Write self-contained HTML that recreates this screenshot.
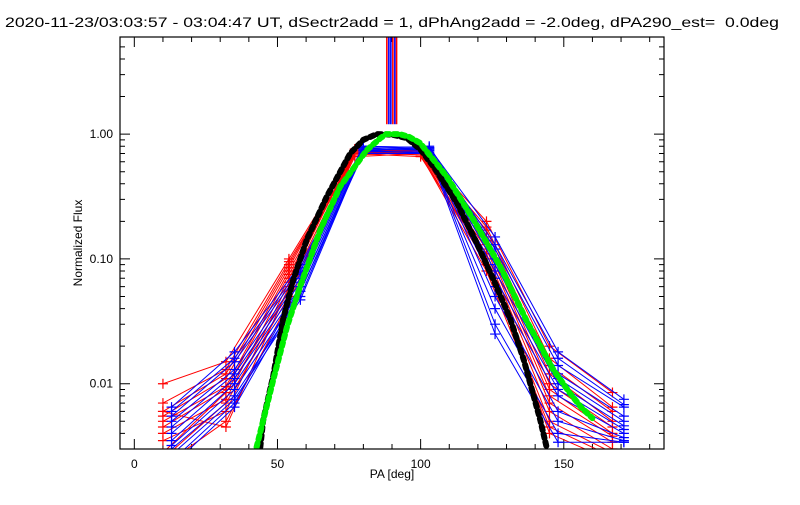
<!DOCTYPE html>
<html><head><meta charset="utf-8"><style>
body{margin:0;background:#fff;}
svg text{font-family:"Liberation Sans",sans-serif;fill:#000;}
</style></head><body>
<svg id="chart" width="800" height="500" viewBox="0 0 800 500" xmlns="http://www.w3.org/2000/svg">
<text x="5" y="27" font-size="14" textLength="774" lengthAdjust="spacingAndGlyphs">2020-11-23/03:03:57 - 03:04:47 UT, dSectr2add = 1, dPhAng2add = -2.0deg, dPA290_est=&#160; 0.0deg</text>
<defs><clipPath id="pc"><rect x="120" y="37" width="544" height="412"/></clipPath></defs>
<g id="axes"></g>
<g id="marks" clip-path="url(#pc)"></g>
<rect x="120" y="37" width="544" height="412" fill="none" stroke="#000" stroke-width="1.2"/>
<text transform="translate(82,243) rotate(-90)" font-size="12" text-anchor="middle">Normalized Flux</text>
<text x="392" y="478" font-size="12" text-anchor="middle">PA [deg]</text>
</svg>
<script>
const xTicks=[0,50,100,150];
const yTicks=[0.01,0.1,1];
const yTickLabels=["0.01","0.10","1.00"];
const redPA=[10,32,54,77,100,123,145,167];
const bluePA=[13,35,58,80,103,126,148,171];
const redSeries=[
[0.01,0.015,0.1,0.72,0.75,0.2,0.02,0.0085],
[0.007,0.013,0.095,0.7,0.74,0.18,0.016,0.0065],
[0.006,0.012,0.09,0.74,0.72,0.17,0.014,0.006],
[0.0055,0.011,0.085,0.76,0.7,0.15,0.012,0.005],
[0.005,0.0095,0.08,0.7,0.76,0.14,0.01,0.0045],
[0.0045,0.009,0.075,0.68,0.72,0.13,0.009,0.004],
[0.004,0.0075,0.07,0.72,0.7,0.12,0.008,0.0038],
[0.0035,0.006,0.065,0.74,0.74,0.11,0.007,0.0034],
[0.006,0.0045,0.06,0.7,0.72,0.1,0.006,0.003],
[0.0028,0.0085,0.055,0.66,0.7,0.09,0.005,0.0028],
[0.0025,0.007,0.05,0.72,0.68,0.08,0.0045,0.0026],
[0.0022,0.005,0.045,0.7,0.66,0.1,0.004,0.0024]];
const blueSeries=[
[0.0065,0.018,0.09,0.8,0.78,0.15,0.018,0.0075],
[0.006,0.016,0.085,0.78,0.76,0.13,0.016,0.0068],
[0.0055,0.015,0.08,0.76,0.8,0.12,0.014,0.0065],
[0.005,0.013,0.075,0.8,0.78,0.1,0.012,0.0055],
[0.0045,0.012,0.07,0.78,0.76,0.09,0.011,0.005],
[0.004,0.011,0.065,0.76,0.74,0.08,0.01,0.0046],
[0.0035,0.01,0.06,0.74,0.76,0.07,0.009,0.0043],
[0.0032,0.009,0.055,0.72,0.72,0.06,0.008,0.004],
[0.003,0.008,0.05,0.76,0.74,0.05,0.006,0.0037],
[0.0027,0.0075,0.047,0.74,0.7,0.04,0.005,0.0035],
[0.0024,0.007,0.06,0.72,0.72,0.03,0.004,0.0034],
[0.0022,0.0065,0.055,0.7,0.7,0.025,0.0034,0.0034]];
const spikePA=[88.2,88.9,89.6,90.3,91.0,91.6];
const spikeColor=["#f00","#00f","#00f","#f00","#00f","#f00"];
const blackPA=[44,45,48.5,52,55.5,60.2,67.2,75.4,80,84.7,90,95.2,100,104.5,112.7,119.6,125.5,131.3,136,141.8,144];
const blackVal=[0.0031,0.0051,0.0115,0.033,0.068,0.142,0.315,0.70,0.9,1.0,0.99,0.93,0.75,0.55,0.28,0.134,0.068,0.033,0.0156,0.0051,0.0031];
const greenPA=[42.7,48.5,53.4,57.9,64.9,71.9,81.2,86,88,92.6,96,99.8,109.2,118.5,127.8,137.3,146.4,152,156,160];
const greenVal=[0.0031,0.0107,0.029,0.06,0.17,0.38,0.745,0.93,1.0,1.0,0.95,0.85,0.455,0.205,0.087,0.031,0.0129,0.0085,0.0065,0.0053];

const NS="http://www.w3.org/2000/svg";
const X0=120,X1=664,Y0=37,Y1=449,XMIN=-5,XMAX=185,YMIN=Math.log10(0.003),YMAX=Math.log10(6);
function sx(v){return X0+(v-XMIN)/(XMAX-XMIN)*(X1-X0);}
function sy(v){return Y1-(Math.log10(v)-YMIN)/(YMAX-YMIN)*(Y1-Y0);}
const axes=document.getElementById('axes'),marks=document.getElementById('marks');
function mk(tag,at,parent){const e=document.createElementNS(NS,tag);for(const k in at)e.setAttribute(k,at[k]);parent.appendChild(e);return e;}
for(let v=0;v<=180;v+=10){
  const major=v%50===0,L=major?10:5,x=sx(v);
  const t=mk('path',{d:`M${x},${Y1}V${Y1-L}M${x},${Y0}V${Y0+L}`,stroke:'#000','stroke-width':1},axes);
  
  
}
xTicks.forEach(v=>{
  const t=mk('text',{x:sx(v),y:468,'font-size':12,'text-anchor':'middle'},axes);t.textContent=String(v);
  
  
});
for(let d=-3;d<=0;d++){for(let m=1;m<=9;m++){
  const v=m*Math.pow(10,d);if(v<0.003||v>6)continue;
  const L=m===1?10:5,y=sy(v);
  const t=mk('path',{d:`M${X0},${y}H${X0+L}M${X1},${y}H${X1-L}`,stroke:'#000','stroke-width':1},axes);
  
  
}}
yTicks.forEach((v,i)=>{
  const t=mk('text',{x:113,y:sy(v)+4,'font-size':12,'text-anchor':'end'},axes);t.textContent=yTickLabels[i];
  
  
});
function profile(pa,vals,col,name){
  const g=mk('g',{},marks);
  
  
  mk('polyline',{points:pa.map((p,i)=>sx(p)+','+sy(vals[i])).join(' '),fill:'none',stroke:col,'stroke-width':1},g);
  pa.forEach((p,i)=>{const x=sx(p),y=sy(vals[i]);
    mk('path',{d:`M${x-5},${y}H${x+5}M${x},${y-5}V${y+5}`,stroke:col,'stroke-width':1.2},g);});
}
redSeries.forEach((s,i)=>profile(redPA,s,'#f00','red-profile-'+i));
blueSeries.forEach((s,i)=>profile(bluePA,s,'#00f','blue-profile-'+i));
spikePA.forEach((p,i)=>{
  const l=mk('line',{x1:sx(p),x2:sx(p),y1:Y0,y2:sy(1.2),stroke:spikeColor[i],'stroke-width':1.6},marks);
  
  
});
function dotted(pa,vals,col,name){
  const l=mk('polyline',{points:pa.map((p,i)=>sx(p)+','+sy(vals[i])).join(' '),fill:'none',stroke:col,'stroke-width':6,'stroke-linecap':'round','stroke-dasharray':'4 4'},marks);
  
  
}
dotted(blackPA,blackVal,'#000','black-model-curve');
dotted(greenPA,greenVal,'#0e0','green-model-curve');
</script>
</body></html>
